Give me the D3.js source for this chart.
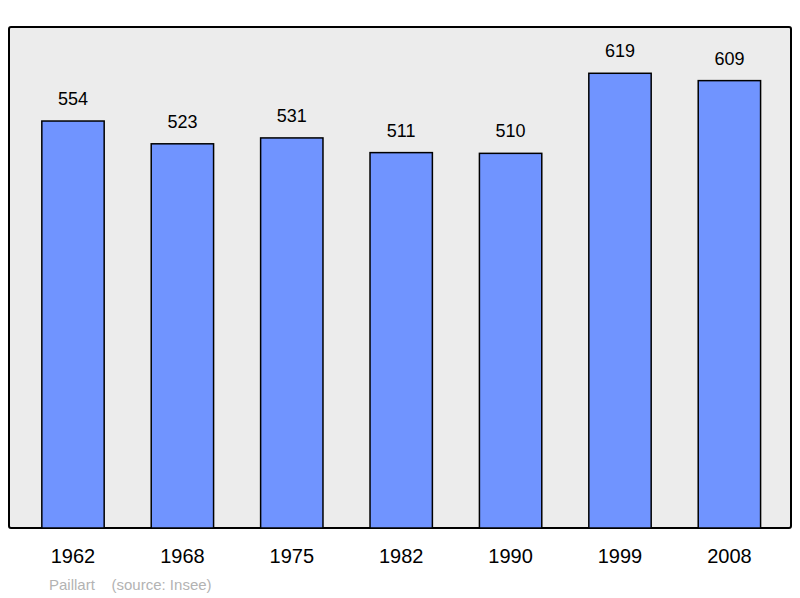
<!DOCTYPE html>
<html lang="en">
<head>
    <meta charset="UTF-8">
    <title>Population</title>
    <style>
        body { margin: 0; background: #fff; }
        svg { display: block; font-family: "Liberation Sans", Arial, sans-serif; }
    </style>
    <script src="https://d3js.org/d3.v7.min.js"></script>
</head>
<body>
    <div id="chart"></div>
    <script>
        const years = ["1962", "1968", "1975", "1982", "1990", "1999", "2008"];
        const population = [554, 523, 531, 511, 510, 619, 609];

        const width = 800, height = 598;
        const svg = d3.select("#chart").append("svg")
            .attr("width", width).attr("height", height);

        // plot frame
        svg.append("rect")
            .attr("x", 9).attr("y", 27).attr("width", 782).attr("height", 501)
            .attr("rx", 2)
            .attr("fill", "#ececec").attr("stroke", "#000").attr("stroke-width", 2);

        const x = d3.scaleBand().domain(years).range([18.3, 784.1])
            .paddingInner(0.43).paddingOuter(0.215);
        const y = d3.scaleLinear().domain([0, 682]).range([528, 27]);

        const data = years.map((yr, i) => ({ year: yr, value: population[i] }));

        svg.append("g").selectAll("rect").data(data).enter().append("rect")
            .attr("x", d => x(d.year))
            .attr("y", d => y(d.value))
            .attr("width", x.bandwidth())
            .attr("height", d => y(0) - y(d.value))
            .attr("fill", "#7094ff").attr("stroke", "#000").attr("stroke-width", 1.5);

        // value labels
        svg.append("g").selectAll("text").data(data).enter().append("text")
            .attr("x", d => x(d.year) + x.bandwidth() / 2)
            .attr("y", d => y(d.value) - 16)
            .attr("text-anchor", "middle").attr("font-size", 18).attr("fill", "#000")
            .text(d => d.value);

        // year labels
        svg.append("g").selectAll("text").data(data).enter().append("text")
            .attr("x", d => x(d.year) + x.bandwidth() / 2)
            .attr("y", 563)
            .attr("text-anchor", "middle").attr("font-size", 20).attr("fill", "#000")
            .text(d => d.year);

        svg.append("text")
            .attr("x", 49).attr("y", 590)
            .attr("font-size", 15).attr("fill", "#b3b3b3")
            .attr("xml:space", "preserve").style("white-space", "pre")
            .text("Paillart    (source: Insee)");
    </script>
</body>
</html>
